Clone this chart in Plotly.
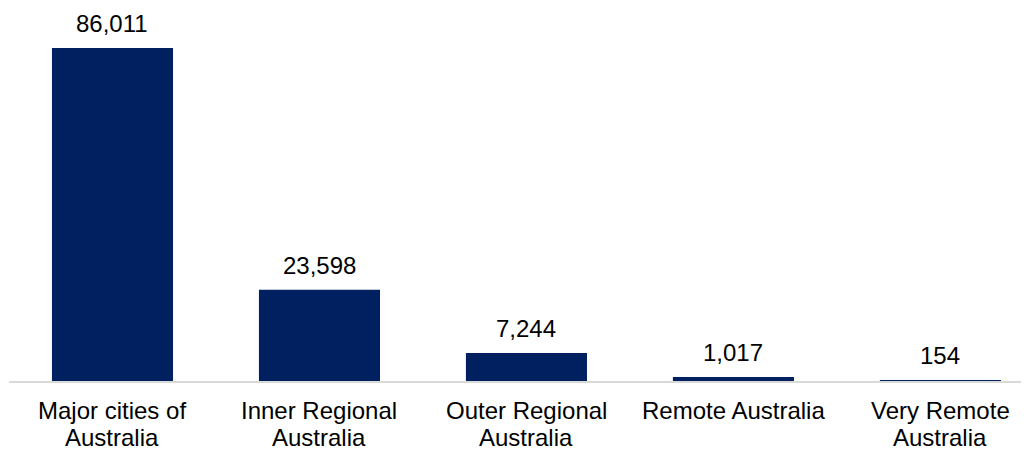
import plotly.graph_objects as go

categories = ["Major cities of Australia", "Inner Regional Australia",
              "Outer Regional Australia", "Remote Australia",
              "Very Remote Australia"]
label_line1 = ["Major cities of", "Inner Regional", "Outer Regional",
               "Remote Australia", "Very Remote"]
label_line2 = ["Australia", "Australia", "Australia", "", "Australia"]
values = [86011, 23598, 7244, 1017, 154]
value_labels = ["86,011", "23,598", "7,244", "1,017", "154"]

FONT = "Liberation Sans, Arial"

fig = go.Figure()

fig.add_trace(go.Bar(
    x=categories, y=values,
    marker=dict(color="#002060", line=dict(width=0)),
    hoverinfo="skip"
))

# value labels above bars
for cat, val, lab in zip(categories, values, value_labels):
    fig.add_annotation(
        x=cat, y=val, text=lab, showarrow=False,
        yanchor="bottom", yshift=9,
        font=dict(family=FONT, size=24, color="#000000")
    )

# category labels, drawn line by line for tighter spacing
for cat, l1, l2 in zip(categories, label_line1, label_line2):
    for txt, shift in ((l1, -15), (l2, -42)):
        if txt:
            fig.add_annotation(
                x=cat, xref="x", y=0, yref="paper", text=txt,
                showarrow=False, yanchor="top", yshift=shift, borderpad=0,
                font=dict(family=FONT, size=24, color="#000000")
            )

fig.update_layout(
    width=1021, height=443,
    margin=dict(l=1, r=0, t=0, b=70),
    paper_bgcolor="white", plot_bgcolor="white",
    bargap=0.415,
    showlegend=False,
    font=dict(family=FONT, size=24, color="#000000"),
    # chart is cropped on the right in the original, so the category axis runs past the edge
    xaxis=dict(showline=True, linecolor="#d9d9d9", linewidth=2,
               ticks="", showgrid=False, showticklabels=False,
               automargin=False, range=[-0.5, 4.428]),
    yaxis=dict(visible=False, range=[0, 96343], showgrid=False,
               zeroline=False, automargin=False),
)

fig.write_html("out.html")
